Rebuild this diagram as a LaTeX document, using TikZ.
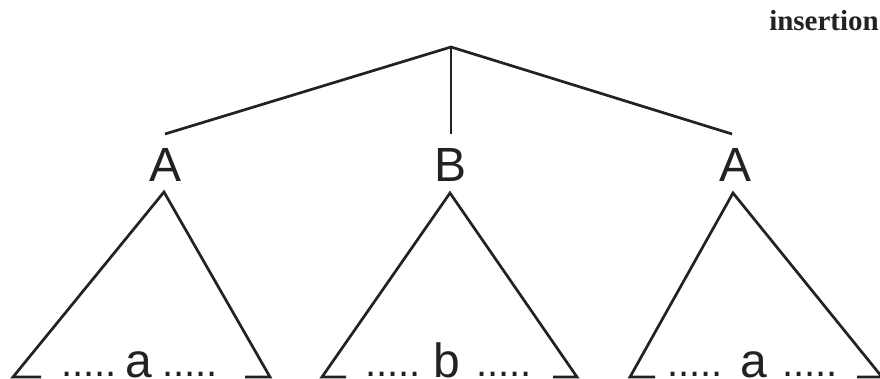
\documentclass[tikz,border=0pt]{standalone}
\usepackage{fontspec}
\setmainfont{Liberation Serif}
\newfontfamily\lblfont{Liberation Sans}
\definecolor{ink}{HTML}{222222}
\begin{document}
\begin{tikzpicture}[x=1pt,y=-1pt,
  edge/.style={draw=ink,line width=2.7pt,line cap=butt,line join=miter},
  lbl/.style={inner sep=0pt,anchor=base,text=ink,font=\lblfont\fontsize{48}{50}\selectfont},
  dots/.style={inner sep=0pt,anchor=base,text=ink,font=\lblfont\fontsize{40}{40}\selectfont},
  title/.style={inner sep=0pt,anchor=base east,text=ink,font=\bfseries\fontsize{29}{30}\selectfont}]
\clip (0,0) rectangle (880,379);
\fill[white] (0,0) rectangle (880,379);
\node[title] (ins) at (879,31) {insertion};
% tree
\coordinate (root) at (451,47);
\coordinate (c1) at (165,134);
\coordinate (c2) at (451,134);
\coordinate (c3) at (732,134);
\draw[edge] (c1) -- (root) -- (c3);
\draw[edge] (root) -- (c2);
\node[lbl] (A1) at (166,182) {A};
\node[lbl] (B) at (451,182) {B};
\node[lbl] (A2) at (735,182) {A};
% triangles
\coordinate (t1) at (164,192);
\coordinate (t1l) at (13,377);
\coordinate (t1r) at (270,377);
\coordinate (s1l) at (41,377);
\coordinate (s1r) at (245,377);
\draw[edge] (s1l) -- (t1l) -- (t1) -- (t1r) -- (s1r);
\coordinate (t2) at (450,193);
\coordinate (t2l) at (322,377);
\coordinate (t2r) at (577,377);
\coordinate (s2l) at (346,377);
\coordinate (s2r) at (553,377);
\draw[edge] (s2l) -- (t2l) -- (t2) -- (t2r) -- (s2r);
\coordinate (t3) at (733,193);
\coordinate (t3l) at (630,377);
\coordinate (t3r) at (882,377);
\coordinate (s3l) at (655,377);
\coordinate (s3r) at (857,377);
\draw[edge] (s3l) -- (t3l) -- (t3) -- (t3r) -- (s3r);
% base texts
\node[dots] (d1l) at (89,376) {.....};
\node[lbl] (a1) at (139,377) {a};
\node[dots] (d1r) at (190,376) {.....};
\node[dots] (d2l) at (393,376) {.....};
\node[lbl] (b) at (447,377) {b};
\node[dots] (d2r) at (504,376) {.....};
\node[dots] (d3l) at (695,376) {.....};
\node[lbl] (a3) at (754,377) {a};
\node[dots] (d3r) at (810,376) {.....};
\end{tikzpicture}
\end{document}
